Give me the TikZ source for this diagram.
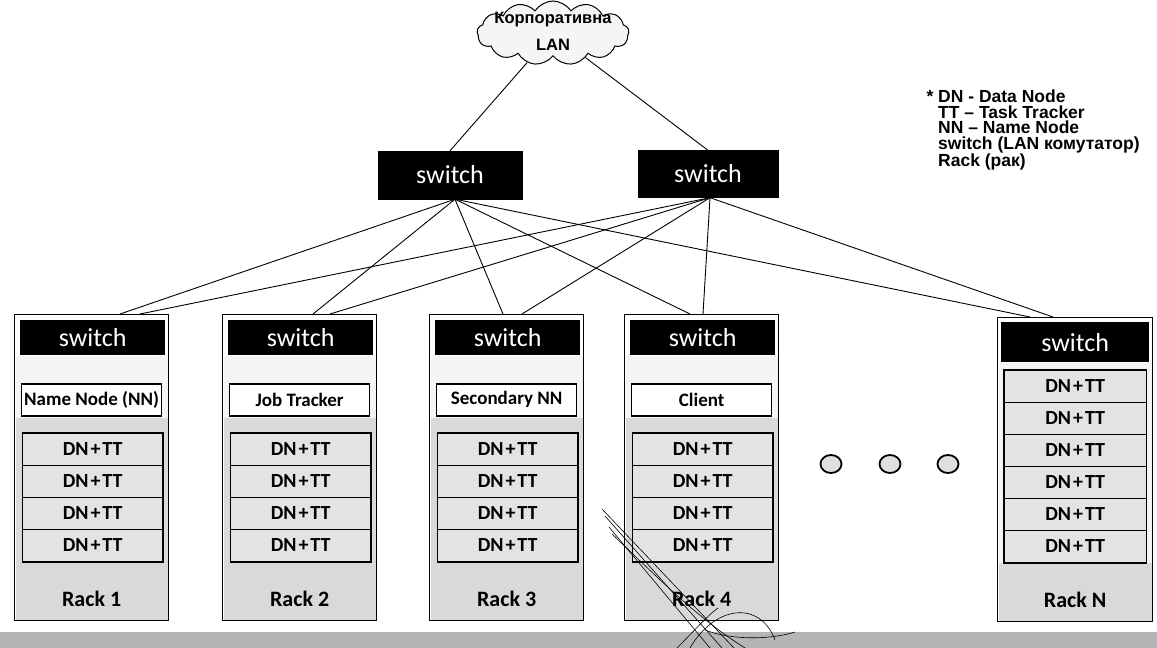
\documentclass[tikz,border=0pt]{standalone}
\usepackage{fontspec}
\setmainfont{Carlito}
\newfontfamily\legendfont{Liberation Sans}
\usetikzlibrary{shapes.symbols,shapes.geometric,calc}

\newcommand{\dntt}{DN\kern2pt+\kern2pt TT}

\tikzset{
  rackbox/.style={draw, line width=1.3pt, fill=white, anchor=north west, inner sep=0},
  swhead/.style={fill=black, text=white, inner sep=0, font=\fontsize{26}{28}\selectfont},
  topswitch/.style={swhead, draw=black, minimum width=144, minimum height=48},
  unitbox/.style={draw, line width=1.6pt, fill=white, inner sep=0, minimum width=140,
    minimum height=32, anchor=north, font=\bfseries\fontsize{19}{21}\selectfont},
  dnrow/.style={draw, line width=0.7pt, fill=gray!22, inner sep=0, minimum width=140,
    minimum height=32, anchor=north, font=\bfseries\fontsize{20}{22}\selectfont},
  racklabel/.style={font=\bfseries\fontsize{22}{24}\selectfont, inner sep=0},
  link/.style={line width=0.9pt},
  dotmark/.style={ellipse, draw, line width=1.8pt, fill=gray!25, minimum width=21, minimum height=18, inner sep=0},
  scribble/.style={line width=0.6pt},
}

\begin{document}
\begin{tikzpicture}[x=1pt, y=-1pt]
\useasboundingbox (0,0) rectangle (1157,648);
\fill[white] (0,0) rectangle (1157,648);

% ground strip
\fill[gray!58] (0,632) rectangle (1157,648);

% corporate network cloud
\node[cloud, draw, line width=1pt, fill=gray!8, cloud puffs=13, cloud puff arc=115,
      minimum width=152, minimum height=64] (lan) at (553,33) {};
\node[align=center, inner sep=0, font=\legendfont\bfseries\fontsize{16.5}{27}\selectfont]
      (lantext) at (553,31) {Корпоративна\\LAN};

% core switches
\node[topswitch] (s1) at (450,175) {switch};
\node[topswitch, minimum width=140, minimum height=47] (s2) at (708,174) {switch};
\coordinate (s1b) at ($(s1.south)+(5,0)$);
\coordinate (s2b) at ($(s2.south)+(2,0)$);

% legend
\node[anchor=north west, align=left, inner sep=0,
      font=\legendfont\bfseries\fontsize{17.5}{15.4}\selectfont] (legend) at (938,90)
  {\llap{* }DN - Data Node\\TT – Task Tracker\\NN – Name Node\\switch (LAN комутатор)\\Rack (рак)};

% racks with a role box on top of four data nodes
\foreach \i/\x/\role/\lbl in {1/14/Name Node (NN)/Rack 1, 2/222/Job Tracker/Rack 2,
                               3/429/Secondary NN/Rack 3, 4/624/Client/Rack 4} {
  \node[rackbox, minimum width=154, minimum height=306] (rack\i) at (\x,314) {};
  \fill[gray!9]  ($(rack\i.north west)+(1.5,42)$) rectangle ($(rack\i.south east)+(-1.5,-1.5)$);
  \fill[gray!30] ($(rack\i.north west)+(1.5,104)$) rectangle ($(rack\i.south east)+(-1.5,-1.5)$);
  \node[swhead, minimum width=145, minimum height=35, anchor=north] (sw\i)
        at ($(rack\i.north)+(1,6)$) {switch};
  \node[unitbox] (role\i) at ($(rack\i.north)+(0,69)$) {\role};
  \foreach \j in {0,...,3}
    \node[dnrow] (dn\i-\j) at ($(rack\i.north)+(1,119+32*\j)$) {\dntt};
  \draw[line width=1.6pt] (dn\i-0.north west) rectangle (dn\i-3.south east);
  \node[racklabel] (lbl\i) at ($(rack\i.north)+(0,285)$) {\lbl};
}

% last rack: six data nodes
\node[rackbox, minimum width=155, minimum height=304] (rack5) at (997,317) {};
\fill[gray!9]  ($(rack5.north west)+(1.5,46)$) rectangle ($(rack5.south east)+(-1.5,-1.5)$);
\fill[gray!30] ($(rack5.north west)+(1.5,246)$) rectangle ($(rack5.south east)+(-1.5,-1.5)$);
\node[swhead, minimum width=148, minimum height=40, anchor=north] (sw5)
      at ($(rack5.north)+(0,5)$) {switch};
\foreach \j in {0,...,5}
  \node[dnrow, minimum width=142] (dn5-\j) at ($(rack5.north)+(0,53+32*\j)$) {\dntt};
\draw[line width=1.6pt] (dn5-0.north west) rectangle (dn5-5.south east);
\node[racklabel] (lbl5) at ($(rack5.north)+(0,283)$) {Rack N};

% ellipsis between rack 4 and rack N
\node[dotmark] (d1) at (831,464) {};
\node[dotmark] (d2) at (890,464) {};
\node[dotmark] (d3) at (948,464) {};

% uplink points on rack tops
\coordinate (r1a) at ($(rack1.north west)+(106,0)$);
\coordinate (r1b) at ($(rack1.north west)+(126,0)$);
\coordinate (r2a) at ($(rack2.north west)+(91,0)$);
\coordinate (r2b) at ($(rack2.north west)+(108,0)$);
\coordinate (r3a) at ($(rack3.north west)+(74,0)$);
\coordinate (r3b) at ($(rack3.north west)+(93,0)$);
\coordinate (r4a) at ($(rack4.north west)+(66,0)$);
\coordinate (r4b) at ($(rack4.north west)+(79,0)$);
\coordinate (r5a) at ($(rack5.north west)+(33,0)$);
\coordinate (r5b) at ($(rack5.north west)+(56,0)$);

% cabling
\draw[link] (lan) -- (s1.north);
\draw[link] (lan) -- (s2.north);
\foreach \r in {r1a,r2a,r3a,r4a,r5a} \draw[link] (s1b) -- (\r);
\foreach \r in {r1b,r2b,r3b,r4b,r5b} \draw[link] (s2b) -- (\r);

% pen strokes across rack 4
\draw[scribble] (602,509) -- (734,648);
\draw[scribble] (605,516) -- (722,648);
\draw[scribble] (609,527) -- (710,648);
\draw[scribble] (612,534) .. controls (660,580) and (700,620) .. (745,648);
\draw[scribble] (677,648) .. controls (695,630) and (708,615) .. (718,608);
\draw[scribble] (690,648) .. controls (715,605) and (760,600) .. (775,640);
\draw[scribble] (705,630) .. controls (730,640) and (770,640) .. (795,632);
\end{tikzpicture}
\end{document}
